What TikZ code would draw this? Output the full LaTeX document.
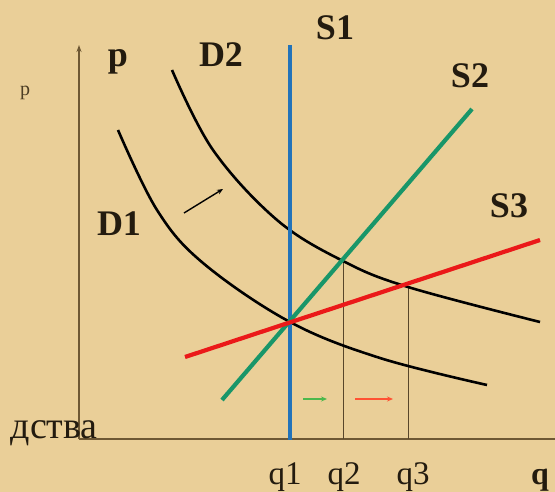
\documentclass[tikz,border=0pt]{standalone}
\usepackage{fontspec}
\setmainfont{Liberation Serif}
\usetikzlibrary{arrows.meta, positioning}
\definecolor{parch}{RGB}{234,207,152}
\definecolor{axc}{RGB}{110,88,52}
\definecolor{txtc}{RGB}{35,27,15}
\definecolor{sblue}{RGB}{35,115,185}
\definecolor{sgreen}{RGB}{25,150,105}
\definecolor{sred}{RGB}{235,25,25}
\tikzset{
  ax/.style={draw=axc, line width=1.8pt},
  guide/.style={draw=axc!80!black, line width=1pt},
  dcurve/.style={draw=black, line width=2.6pt},
  scurve/.style={line width=4.2pt},
  movearr/.style={-{Stealth[length=6pt, width=5pt]}, line width=1.4pt},
  lab/.style={font=\fontsize{36}{36}\selectfont\bfseries, text=txtc, inner sep=0pt, anchor=base},
  qlab/.style={font=\fontsize{33}{33}\selectfont, text=txtc, inner sep=0pt, anchor=base}
}
\begin{document}
\begin{tikzpicture}[x=1pt, y=-1pt]
  \fill[parch] (0,0) rectangle (555,492);
  \useasboundingbox (0,0) rectangle (555,492);

  % axes
  \coordinate (O) at (79,439);
  \coordinate (ptop) at (79,45);
  \coordinate (qend) at (555,439);
  \draw[ax, -{Stealth[length=7pt, width=5pt]}] (O) -- (ptop);
  \draw[ax] (O) -- (qend);
  \node[font=\fontsize{38}{38}\selectfont, text=txtc, inner sep=0pt, anchor=base east] (cut) at (98,438) {дства};
  \node[font=\fontsize{20}{20}\selectfont, text=axc!70!black, inner sep=0pt, anchor=base] (psmall) at (25,96) {p};

  % equilibrium points
  \coordinate (E1) at (290,322);
  \coordinate (E2) at (343,261);
  \coordinate (E3) at (408,287);
  \draw[guide] (E2) -- (E2 |- O);
  \draw[guide] (E3) -- (E3 |- O);

  % demand curves
  \draw[dcurve] plot[smooth, tension=0.6] coordinates
    {(118,130) (157,210) (203,263) (E1) (380,358) (487,385)};
  \draw[dcurve] plot[smooth, tension=0.6] coordinates
    {(172,70) (213,150) (277,220) (E2) (E3) (540,322)};

  % supply curves
  \coordinate (s1a) at (290,45);
  \coordinate (s1b) at (290,440);
  \coordinate (s2a) at (222,400);
  \coordinate (s2b) at (472,109);
  \coordinate (s3a) at (185,357);
  \coordinate (s3b) at (540,240);
  \draw[scurve, draw=sblue] (s1a) -- (s1b);
  \draw[scurve, draw=sgreen] (s2a) -- (s2b);
  \draw[scurve, draw=sred] (s3a) -- (s3b);

  % shift arrows
  \coordinate (d0) at (184,213);
  \coordinate (d1) at (223,189);
  \draw[movearr, draw=black] (d0) -- (d1);
  \coordinate (g0) at (303,399);
  \coordinate (g1) at (327,399);
  \draw[movearr, draw=green!60!black!70!white] (g0) -- (g1);
  \coordinate (r0) at (355,399);
  \coordinate (r1) at (393,399);
  \draw[movearr, draw=red!70!orange!80!white] (r0) -- (r1);

  % labels
  \node[lab] (plab) at (118,67) {p};
  \node[lab] (D2lab) at (221,67) {D2};
  \node[lab] (S1lab) at (335,40) {S1};
  \node[lab] (S2lab) at (470,88) {S2};
  \node[lab] (S3lab) at (509,218) {S3};
  \node[lab] (D1lab) at (119,236) {D1};
  \node[qlab] (q1lab) at (285,484) {q1};
  \node[qlab] (q2lab) at (344,484) {q2};
  \node[qlab] (q3lab) at (413,484) {q3};
  \node[lab, font=\fontsize{32}{32}\selectfont\bfseries] (qlab) at (540,484) {q};
\end{tikzpicture}
\end{document}
